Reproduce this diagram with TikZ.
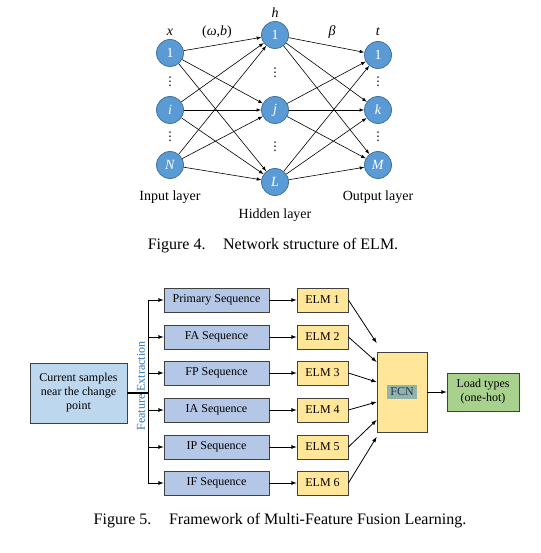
\documentclass[tikz,border=0pt]{standalone}
\usepackage{fontspec}
\setmainfont{Liberation Serif}
\newfontfamily\dotsfont{DejaVu Sans}
\usetikzlibrary{calc}

\definecolor{neuronfill}{HTML}{5B9BD5}
\definecolor{neuronline}{HTML}{41719C}
\definecolor{samplefill}{HTML}{BDD7EE}
\definecolor{seqfill}{HTML}{B4C7E7}
\definecolor{elmfill}{HTML}{FFE699}
\definecolor{loadfill}{HTML}{A9D18E}
\definecolor{boxline}{HTML}{404040}
\definecolor{fcnmark}{HTML}{93B3A6}
\definecolor{fcntext}{HTML}{1F3864}
\definecolor{featuretext}{HTML}{2E75B6}

\tikzset{
    >=latex,
    neuron/.style={circle, draw=neuronline, line width=0.8pt, fill=neuronfill, text=white,
        minimum size=27pt, inner sep=0pt, font=\fontsize{14}{16}\selectfont},
    toptext/.style={font=\fontsize{14}{16}\selectfont},
    dotstext/.style={inner sep=0pt, font=\dotsfont\fontsize{12}{12}\selectfont},
    seqbox/.style={draw=boxline, line width=0.8pt, fill=seqfill, minimum width=105pt,
        minimum height=24pt, inner sep=0pt, font=\fontsize{12}{14}\selectfont},
    elmbox/.style={seqbox, fill=elmfill, minimum width=51pt},
    caption/.style={font=\fontsize{16}{18}\selectfont}
}

\begin{document}
\begin{tikzpicture}[x=1pt, y=-1pt]
    \useasboundingbox (0,0) rectangle (540,553);

    % network structure of ELM
    \node[neuron] at (170,53) (in1) {1};
    \node[neuron] at (170,110) (ini) {\textit{i}};
    \node[neuron] at (170,165) (inN) {\textit{N}};
    \node[neuron] at (275,35) (hid1) {1};
    \node[neuron] at (275,110) (hidj) {\textit{j}};
    \node[neuron] at (275,182) (hidL) {\textit{L}};
    \node[neuron] at (378,55) (out1) {1};
    \node[neuron] at (378,110) (outk) {\textit{k}};
    \node[neuron] at (378,165) (outM) {\textit{M}};

    \foreach \a in {in1,ini,inN}
        \foreach \b in {hid1,hidj,hidL}
            \draw[->, line width=0.6pt] (\a) -- (\b);
    \foreach \a in {hid1,hidj,hidL}
        \foreach \b in {out1,outk,outM}
            \draw[->, line width=0.6pt] (\a) -- (\b);

    \node[toptext] at (170,32) (xlabel) {\textit{x}};
    \node[toptext] at (217,32) (wblabel) {(\textit{ω},\textit{b})};
    \node[toptext] at (275,13) (hlabel) {\textit{h}};
    \node[toptext] at (332,32) (betalabel) {\textit{β}};
    \node[toptext] at (378,32) (tlabel) {\textit{t}};

    \node[dotstext] at (170,82) (indots1) {⋮};
    \node[dotstext] at (170,137) (indots2) {⋮};
    \node[dotstext] at (275,73) (hiddots1) {⋮};
    \node[dotstext] at (275,147) (hiddots2) {⋮};
    \node[dotstext] at (378,82) (outdots1) {⋮};
    \node[dotstext] at (378,137) (outdots2) {⋮};

    \node[toptext] at (170,197) (inputlayer) {Input layer};
    \node[toptext] at (275,215) (hiddenlayer) {Hidden layer};
    \node[toptext] at (378,197) (outputlayer) {Output layer};

    \node[caption] at (273,246) (fig4) {Figure 4.\hspace{1.1em}Network structure of ELM.};

    % framework of multi-feature fusion learning
    \node[seqbox, fill=samplefill, minimum width=97pt, minimum height=60pt, align=center]
        at (78.5,393) (samples) {Current samples\\near the change\\point};

    \node[seqbox] at (216.5,300) (primary) {Primary Sequence};
    \node[seqbox] at (216.5,337) (fa) {FA Sequence};
    \node[seqbox] at (216.5,373) (fp) {FP Sequence};
    \node[seqbox] at (216.5,410) (ia) {IA Sequence};
    \node[seqbox] at (216.5,447) (ip) {IP Sequence};
    \node[seqbox] at (216.5,483) (if) {IF Sequence};

    \node[elmbox] at (322.5,300) (elm1) {ELM 1};
    \node[elmbox] at (322.5,337) (elm2) {ELM 2};
    \node[elmbox] at (322.5,373) (elm3) {ELM 3};
    \node[elmbox] at (322.5,410) (elm4) {ELM 4};
    \node[elmbox] at (322.5,447) (elm5) {ELM 5};
    \node[elmbox] at (322.5,483) (elm6) {ELM 6};

    \node[elmbox, minimum width=50pt, minimum height=80pt] at (402,392) (fcn)
        {\colorbox{fcnmark}{\color{fcntext}FCN}};
    \node[seqbox, fill=loadfill, minimum width=72pt, minimum height=38pt, align=center]
        at (483,392) (load) {Load types\\(one-hot)};

    \coordinate (bus) at (148,393);
    \coordinate (bustop) at (148,300);
    \coordinate (busbottom) at (148,483);
    \draw[line width=1.6pt] (samples.east) -- (bus);
    \draw[line width=0.8pt] (bustop) -- (busbottom);
    \node[rotate=90, text=featuretext, font=\fontsize{12}{14}\selectfont, inner sep=0pt]
        at (141,386) (feature) {Feature Extraction};

    \foreach \s/\e in {primary/elm1,fa/elm2,fp/elm3,ia/elm4,ip/elm5,if/elm6} {
        \draw[->, line width=0.8pt] (bus |- \s) -- (\s);
        \draw[->, line width=0.8pt] (\s) -- (\e);
    }

    \draw[->, line width=0.8pt] (elm1.east) -- ($(fcn.west)+(0,-49)$);
    \draw[->, line width=0.8pt] (elm2.east) -- ($(fcn.west)+(0,-30)$);
    \draw[->, line width=0.8pt] (elm3.east) -- ($(fcn.west)+(0,-10)$);
    \draw[->, line width=0.8pt] (elm4.east) -- ($(fcn.west)+(0,10)$);
    \draw[->, line width=0.8pt] (elm5.east) -- ($(fcn.west)+(0,28)$);
    \draw[->, line width=0.8pt] (elm6.east) -- ($(fcn.west)+(0,45)$);

    \draw[->, line width=0.8pt] (fcn) -- (load);

    \node[caption] at (280,521) (fig5) {Figure 5.\hspace{1.1em}Framework of Multi-Feature Fusion Learning.};
\end{tikzpicture}
\end{document}
